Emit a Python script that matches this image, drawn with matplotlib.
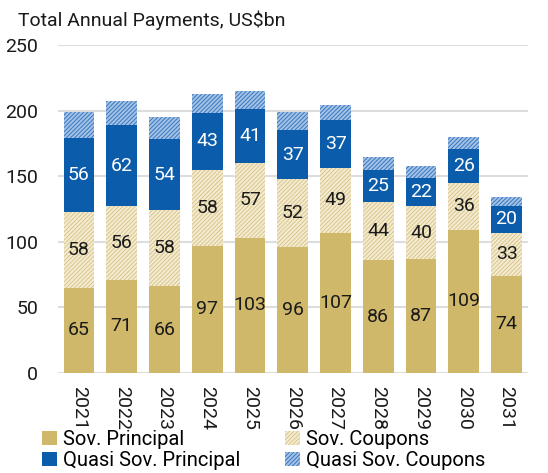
import matplotlib
matplotlib.use("Agg")
import matplotlib.pyplot as plt
import numpy as np

plt.rcParams['font.family'] = ['Roboto', 'DejaVu Sans']
plt.rcParams['hatch.linewidth'] = 0.7

years = ["2021", "2022", "2023", "2024", "2025", "2026", "2027", "2028", "2029", "2030", "2031"]
sov_principal = [65, 71, 66, 97, 103, 96, 107, 86, 87, 109, 74]
sov_coupons = [58, 56, 58, 58, 57, 52, 49, 44, 40, 36, 33]
quasi_principal = [56, 62, 54, 43, 41, 37, 37, 25, 22, 26, 20]
quasi_coupons = [20, 18, 17, 15, 14, 14, 11, 10, 9, 8.5, 7]

c_sp = "#D0B86A"
c_sc_face = "#F4ECD0"
c_sc_hatch = "#D9C48E"
c_qp = "#0B5CAB"
c_qc_face = "#A3C3E6"
c_qc_hatch = "#3A76BF"

fig = plt.figure(figsize=(5.48, 4.73), dpi=100)
ax = fig.add_axes([57.6/548, 1-373/473, (528-57.6)/548, (373-45)/473])

x = np.arange(len(years))
w = 0.72
sp = np.array(sov_principal, float)
sc = np.array(sov_coupons, float)
qp = np.array(quasi_principal, float)
qc = np.array(quasi_coupons, float)

b1 = ax.bar(x, sp, w, color=c_sp, lw=0, label="Sov. Principal", zorder=2)
b2 = ax.bar(x, sc, w, bottom=sp, facecolor=c_sc_face, edgecolor=c_sc_hatch, hatch="////////", lw=0,
            label="Sov. Coupons", zorder=2)
b3 = ax.bar(x, qp, w, bottom=sp+sc, color=c_qp, lw=0, label="Quasi Sov. Principal", zorder=2)
b4 = ax.bar(x, qc, w, bottom=sp+sc+qp, facecolor=c_qc_face, edgecolor=c_qc_hatch, hatch="////////", lw=0,
            label="Quasi Sov. Coupons", zorder=2)

fs = 14
for i in range(len(years)):
    ax.text(x[i], sp[i]/2, f"{int(sp[i])}", ha="center", va="center", fontsize=fs, color="#1a1a1a", zorder=3)
    ax.text(x[i], sp[i]+sc[i]/2, f"{int(sc[i])}", ha="center", va="center", fontsize=fs, color="#1a1a1a", zorder=3)
    ax.text(x[i], sp[i]+sc[i]+qp[i]/2, f"{int(qp[i])}", ha="center", va="center", fontsize=fs, color="white", zorder=3)

ax.set_xlim(-0.5, len(years)-0.5)
ax.set_ylim(0, 250)
ax.set_yticks([0, 50, 100, 150, 200, 250])
ax.yaxis.grid(True, color="#DDDDDD", lw=1.5, zorder=0)
ax.set_axisbelow(True)
for s in ax.spines.values():
    s.set_visible(False)
ax.set_xticks(x)
ax.set_xticklabels(years, rotation=270, fontsize=fs, color="#1a1a1a")
ax.tick_params(axis="y", length=0, pad=14, labelsize=fs, labelcolor="#1a1a1a")
ax.tick_params(axis="x", length=0, pad=9)

fig.text(18/548, 1-20/473, "Total Annual Payments, US$bn", fontsize=14, color="#1a1a1a",
         ha="left", va="center")

fig.legend([b1, b3, b2, b4],
           ["Sov. Principal", "Quasi Sov. Principal", "Sov. Coupons", "Quasi Sov. Coupons"],
           ncol=2, loc="upper left", bbox_to_anchor=(42/548, 1-430/473), frameon=False,
           fontsize=14.5, handlelength=0.75, handleheight=0.75, handletextpad=0.3,
           columnspacing=2.2, labelspacing=0.1, borderaxespad=0, borderpad=0)

fig.savefig("out.png", dpi=100)
